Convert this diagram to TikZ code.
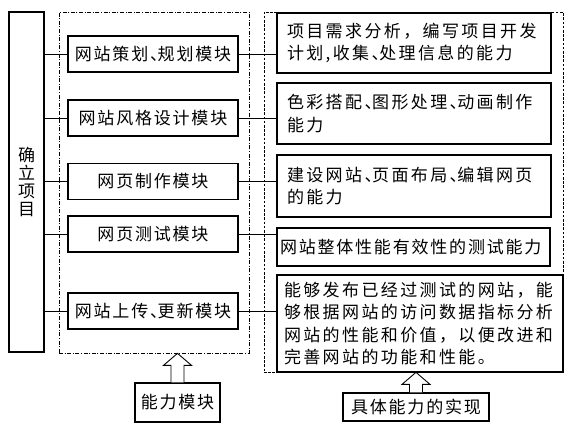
\documentclass[tikz,border=0pt]{standalone}
\usepackage{fontspec}
\newfontfamily\cjk[LetterSpace=14]{Noto Sans CJK SC}
\newfontfamily\cjkm[LetterSpace=10.6]{Noto Sans CJK SC}
\usetikzlibrary{positioning,calc}
\newcommand{\dun}{、\kern-0.55em}
\newcommand{\hohlpfeil}[2]{% #1 Fuss, #2 Spitze
  \draw[line width=0.9pt, fill=white] let \p1=(#1), \p2=(#2) in
    (\x1-6.5pt,\y1) -- (\x1-6.5pt,\y2-12pt) -- (\x1-14pt,\y2-12pt) -- (\x1,\y2)
    -- (\x1+14pt,\y2-12pt) -- (\x1+6.5pt,\y2-12pt) -- (\x1+6.5pt,\y1);}

\begin{document}
\begin{tikzpicture}[x=1pt,y=-1pt,
    kasten/.style={draw, line width=1.1pt, inner sep=0pt},
    modul/.style={kasten, minimum width=170pt, minimum height=36pt, font=\cjkm\fontsize{17}{20}\selectfont},
    faehig/.style={kasten, align=left, font=\cjk\fontsize{17}{22.5}\selectfont},
    rahmen/.style={draw, line width=0.7pt, inner sep=0pt}]
        \fill[white] (0,0) rectangle (570,431);                                      % Hintergrund
        \useasboundingbox (0,0) rectangle (570,431);                                 % Umgebung
        \node[rahmen, dash pattern=on 4pt off 1.6pt on 1pt off 1.6pt, minimum width=190pt, minimum height=341pt] (mods) at (154,182.5) {}; % Rahmen Module
        \node[rahmen, dash pattern=on 2.6pt off 1.6pt, minimum width=299pt, minimum height=360pt] (fa) at (413.5,192) {}; % Rahmen Faehigkeiten
        \node[kasten, minimum width=35pt, minimum height=340pt, align=center, font=\cjkm\fontsize{17}{18}\selectfont] (proj) at (26.5,182) {确\\立\\项\\目}; % Projekt
        \node[modul] (m1) at (153,54) {网站策划\dun 规划模块};                       % Modul 1
        \node[modul] (m2) at (153,118) {网站风格设计模块};                           % Modul 2
        \node[modul] (m3) at (153,181.5) {网页制作模块};                             % Modul 3
        \node[modul] (m4) at (153,234) {网页测试模块};                               % Modul 4
        \node[modul] (m5) at (153,311) {网站上传\dun 更新模块};                      % Modul 5
        \node[faehig, text width=254pt, inner xsep=10pt, minimum height=60pt] (r1) at (414,43) {项目需求分析，编写项目开发\\计划,收集\dun 处理信息的能力}; % Faehigkeit 1
        \node[faehig, text width=254pt, inner xsep=10pt, minimum height=61pt] (r2) at (414,113.5) {色彩搭配\dun 图形处理\dun 动画制作\\能力}; % Faehigkeit 2
        \node[faehig, text width=254pt, inner xsep=10pt, minimum height=62pt] (r3) at (414,186) {建设网站\dun 页面布局\dun 编辑网页\\的能力}; % Faehigkeit 3
        \node[faehig, font=\cjkm\fontsize{17}{22.5}\selectfont, text width=267pt, inner xsep=3pt, minimum height=38pt] (r4) at (413.5,247) {网站整体性能有效性的测试能力}; % Faehigkeit 4
        \node[faehig, text width=272pt, inner xsep=7pt, minimum height=97pt] (r5) at (420,323.5) {能够发布已经过测试的网站，能\\够根据网站的访问数据指标分析\\网站的性能和价值，以便改进和\\完善网站的功能和性能。}; % Faehigkeit 5
        \foreach \i in {1,...,5} {
            \draw[line width=0.9pt] (m\i.west -| proj.east) -- (m\i.west);           % links
            \draw[line width=0.9pt] (m\i.east) -- (m\i.east -| r\i.west);            % rechts
        }
        \node[kasten, minimum width=85pt, minimum height=39pt, font=\cjkm\fontsize{17}{20}\selectfont] (abil) at (177.5,402.5) {能力模块}; % Beschriftung links
        \node[kasten, minimum width=146pt, minimum height=28pt, font=\cjkm\fontsize{17}{20}\selectfont] (real) at (416,407) {具体能力的实现}; % Beschriftung rechts
        \hohlpfeil{abil.north}{abil.north |- mods.south}                             % Pfeil links
        \hohlpfeil{real.north}{real.north |- fa.south}                               % Pfeil rechts
    \end{tikzpicture}
\end{document}
